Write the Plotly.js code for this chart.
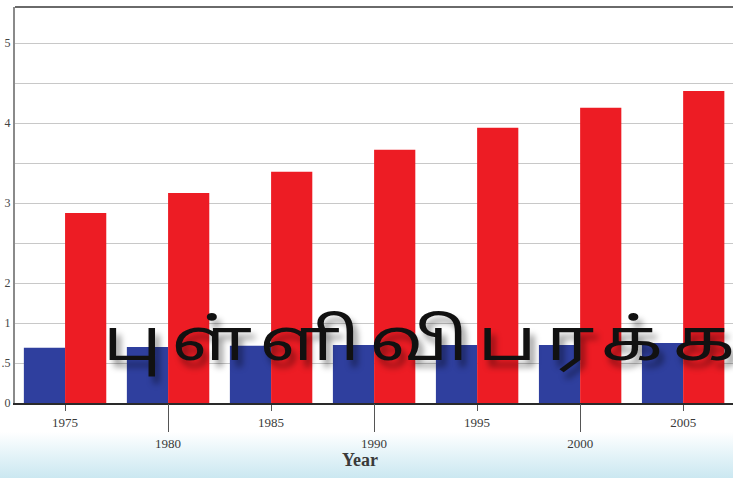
<!DOCTYPE html>
<html>
<head>
<meta charset="utf-8">
<script src="https://cdn.plot.ly/plotly-3.0.1.min.js"></script>
<style>
  html, body { margin: 0; padding: 0; }
  body { width: 733px; height: 478px; overflow: hidden;
         background: linear-gradient(to bottom, #ffffff 0px, #ffffff 432px, #e4f3f8 455px, #cbe8f1 478px); }
  #chart { width: 733px; height: 478px; }
</style>
</head>
<body>
<div id="chart"></div>
<script>
// Data (heights in the chart's linear grid units, one unit per gridline)
const years = [1975, 1980, 1985, 1990, 1995, 2000, 2005];
const blueSeries = [1.38, 1.40, 1.43, 1.45, 1.45, 1.45, 1.50];
const redSeries  = [4.75, 5.25, 5.78, 6.33, 6.88, 7.38, 7.80];
// y tick labels, one per gridline
const yTickVals = [0, 1, 2, 3, 4, 5, 6, 7, 8, 9];
const yTickText = ['0', '.5', '1', '2', '', '3', '', '4', '', '5'];
// x tick labels in two rows
const xTicksUpper = [1975, 1985, 1995, 2005];
const xTicksLower = [1980, 1990, 2000];
const xTitle = 'Year';
const watermark = 'புள்ளிவிபரக்கணிதம்';

const xRange = [1972.57, 2007.42];
const tickFont = { family: 'Liberation Serif, DejaVu Serif, serif', size: 13, color: '#3a3a3a' };

const traces = [
  { type: 'bar', x: years, y: blueSeries, name: 'blue', marker: { color: '#2f3f9e', line: { width: 0 } } },
  { type: 'bar', x: years, y: redSeries, name: 'red', marker: { color: '#ed1c24', line: { width: 0 } } },
  { type: 'scatter', x: [], y: [], xaxis: 'x2', yaxis: 'y', showlegend: false, hoverinfo: 'skip' }
];

const layout = {
  width: 733, height: 478,
  margin: { l: 15, r: 0, t: 7, b: 75 },
  paper_bgcolor: 'rgba(0,0,0,0)',
  plot_bgcolor: '#ffffff',
  showlegend: false,
  barmode: 'group',
  bargap: 0.2,
  bargroupgap: 0,
  xaxis: {
    range: xRange, fixedrange: true,
    tickmode: 'array', tickvals: xTicksUpper, ticktext: xTicksUpper.map(String),
    ticks: 'outside', ticklen: 6, tickwidth: 1, tickcolor: '#555',
    showgrid: false, zeroline: false,
    showline: true, linecolor: '#2a2a2a', linewidth: 2,
    tickfont: tickFont, automargin: false
  },
  xaxis2: {
    overlaying: 'x', anchor: 'y', side: 'bottom',
    range: xRange, fixedrange: true,
    tickmode: 'array', tickvals: xTicksLower, ticktext: xTicksLower.map(String),
    ticks: 'outside', ticklen: 28, tickwidth: 1, tickcolor: '#555',
    showgrid: false, zeroline: false, showline: false,
    tickfont: tickFont, automargin: false
  },
  yaxis: {
    range: [0, 9.9], fixedrange: true,
    tickmode: 'array', tickvals: yTickVals, ticktext: yTickText,
    ticks: '', showgrid: true, gridcolor: '#c8c8c8', gridwidth: 1,
    zeroline: false, showline: true, linecolor: '#8a8a8a', linewidth: 2,
    tickfont: { family: 'Liberation Serif, DejaVu Serif, serif', size: 12, color: '#444' },
    ticklabelstandoff: 0, automargin: false
  },
  shapes: [
    { type: 'line', xref: 'paper', yref: 'paper', x0: 0, x1: 1, y0: 1, y1: 1,
      line: { color: '#6a6a6a', width: 2 } }
  ],
  annotations: [
    { xref: 'paper', yref: 'paper', x: 0.4805, y: -0.144, xanchor: 'center', yanchor: 'middle',
      text: '<b>' + xTitle + '</b>', showarrow: false,
      font: { family: 'Liberation Serif, DejaVu Serif, serif', size: 18, color: '#3a3a3a' } },
    { xref: 'paper', yref: 'paper', x: 0.12, y: 0.146, xanchor: 'left', yanchor: 'middle', align: 'left',
      text: watermark, showarrow: false,
      font: { family: 'Noto Sans Tamil, Lohit Tamil, Latha, Noto Sans, sans-serif', size: 58, color: '#111111',
              shadow: '4px 8px 6px rgba(0,0,0,0.4)' } }
  ]
};

Plotly.newPlot('chart', traces, layout, { staticPlot: true, displayModeBar: false }).then(function (gd) {
  gd.querySelectorAll('text.annotation-text').forEach(function (t) {
    if (t.textContent === watermark) {
      t.style.letterSpacing = '7.5px';
      t.style.transformBox = 'fill-box';
      t.style.transformOrigin = 'left center';
      t.style.transform = 'scaleX(1.3)';
    }
  });
});
</script>
</body>
</html>
